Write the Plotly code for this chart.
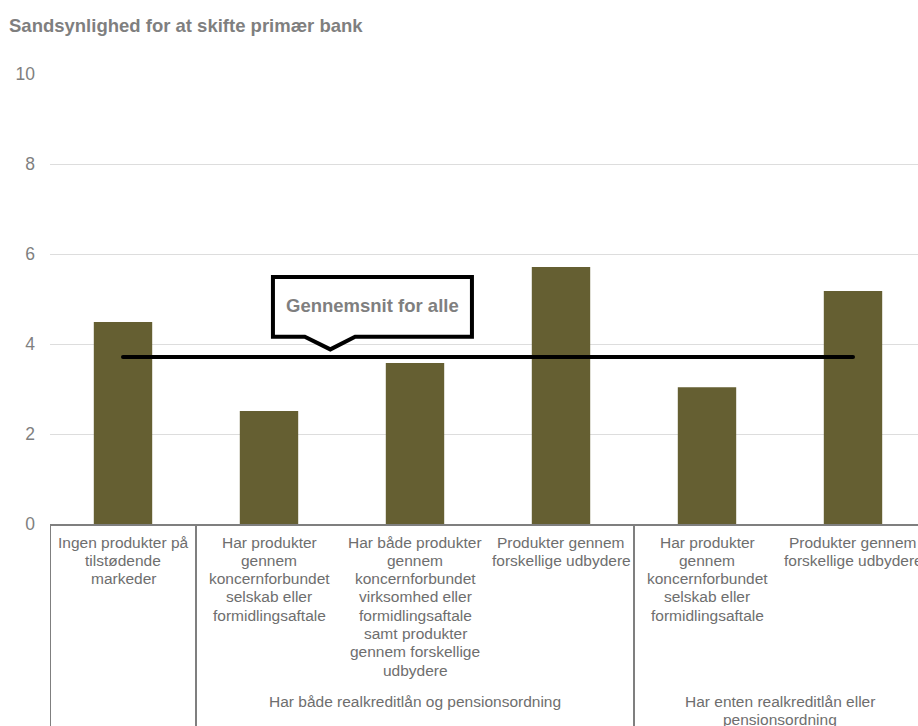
import plotly.graph_objects as go

# Sandsynlighed for at skifte primær bank, fordelt på kundegrupper
categories = [
    ["Ingen produkter på", "tilstødende", "markeder"],
    ["Har produkter", "gennem", "koncernforbundet", "selskab eller", "formidlingsaftale"],
    ["Har både produkter", "gennem", "koncernforbundet", "virksomhed eller",
     "formidlingsaftale", "samt produkter", "gennem forskellige", "udbydere"],
    ["Produkter gennem", "forskellige udbydere"],
    ["Har produkter", "gennem", "koncernforbundet", "selskab eller", "formidlingsaftale"],
    ["Produkter gennem", "forskellige udbydere"],
]
values = [4.49, 2.51, 3.58, 5.71, 3.04, 5.18]
average = 3.71

group_labels = [
    ["Har både realkreditlån og pensionsordning"],
    ["Har enten realkreditlån eller", "pensionsordning"],
]
group_centers = [2.0, 4.5]        # midt i hver gruppe (kategoriindeks)
group_dividers = [-0.5, 0.5, 3.5]  # lodrette skillelinjer under aksen

title_text = "Sandsynlighed for at skifte primær bank"
callout_text = "Gennemsnit for alle"
y_ticks = [0, 2, 4, 6, 8, 10]

W, H = 918, 726
M_L, M_T, M_B = 50, 74, 202
plot_h = H - M_T - M_B
CAT_W = 146          # pixelbredde pr. kategori
LINE_H = 18.3        # linjeafstand i aksetekster

BAR = "#655F32"
TXT = "#7F7F7F"
LBL = "#6E6E6E"
FONT = "Liberation Sans, Arial, sans-serif"

x_idx = list(range(len(values)))

fig = go.Figure()

fig.add_trace(go.Bar(
    x=x_idx, y=values, width=0.4,
    marker=dict(color=BAR, line=dict(width=0)),
    hoverinfo="skip", showlegend=False,
))

# gennemsnitslinje fra første til sidste søjle
fig.add_trace(go.Scatter(
    x=[x_idx[0], x_idx[-1]], y=[average, average],
    mode="lines+markers",
    line=dict(color="black", width=4),
    marker=dict(color="black", size=4),
    hoverinfo="skip", showlegend=False,
))

# taleboble med pil ned mod gennemsnitslinjen
bx0, bx1 = 1.027, 2.39
by0, by1 = 4.16, 5.49
px0, ptip, px1 = 1.245, 1.42, 1.59
tip_y = average + 0.17
path = (f"M {bx0},{by0} L {bx0},{by1} L {bx1},{by1} L {bx1},{by0} "
        f"L {px1},{by0} L {ptip},{tip_y} L {px0},{by0} Z")
fig.add_shape(type="path", path=path, xref="x", yref="y",
              fillcolor="white", line=dict(color="black", width=4), layer="above")
fig.add_annotation(x=(bx0 + bx1) / 2, y=(by0 + by1) / 2 + 0.02, xref="x", yref="y",
                   text=f"<b>{callout_text}</b>", showarrow=False,
                   font=dict(family=FONT, size=18.5, color=TXT))

# skillelinjer mellem kategorigrupper under x-aksen
for xd in group_dividers:
    fig.add_shape(type="line", xref="x", yref="paper",
                  x0=xd, x1=xd, y0=0, y1=-(M_B + 5) / plot_h,
                  line=dict(color="#7F7F7F", width=2))


def px_to_paper(py):
    return (H - M_B - py) / plot_h


def add_text_block(x, lines, first_center_px):
    for k, line in enumerate(lines):
        fig.add_annotation(x=x, y=px_to_paper(first_center_px + k * LINE_H),
                           xref="x", yref="paper", text=line, showarrow=False,
                           yanchor="middle", xanchor="center",
                           font=dict(family=FONT, size=15.5, color=LBL))


# kategoritekster
for i, lines in enumerate(categories):
    add_text_block(i, lines, 542)

# gruppetekster
for gx, lines in zip(group_centers, group_labels):
    add_text_block(gx, lines, 701.5)

fig.update_layout(
    width=W, height=H,
    margin=dict(l=M_L, r=0, t=M_T, b=M_B),
    paper_bgcolor="white", plot_bgcolor="white",
    title=dict(text=f"<b>{title_text}</b>", x=9 / W, xanchor="left",
               y=1 - 26 / H, yanchor="middle",
               font=dict(family=FONT, size=18.5, color=TXT)),
    xaxis=dict(range=[-0.5, -0.5 + (W - M_L) / CAT_W], showticklabels=False,
               showgrid=False, zeroline=False, showline=True,
               linecolor="#7F7F7F", linewidth=2, ticks=""),
    yaxis=dict(range=[0, 10], tickvals=y_ticks, showgrid=True,
               gridcolor="#DDDDDD", gridwidth=1, zeroline=False,
               showline=False, ticks="", ticklabelstandoff=14,
               tickfont=dict(family=FONT, size=17.5, color=TXT)),
)

fig.write_html("out.html")
